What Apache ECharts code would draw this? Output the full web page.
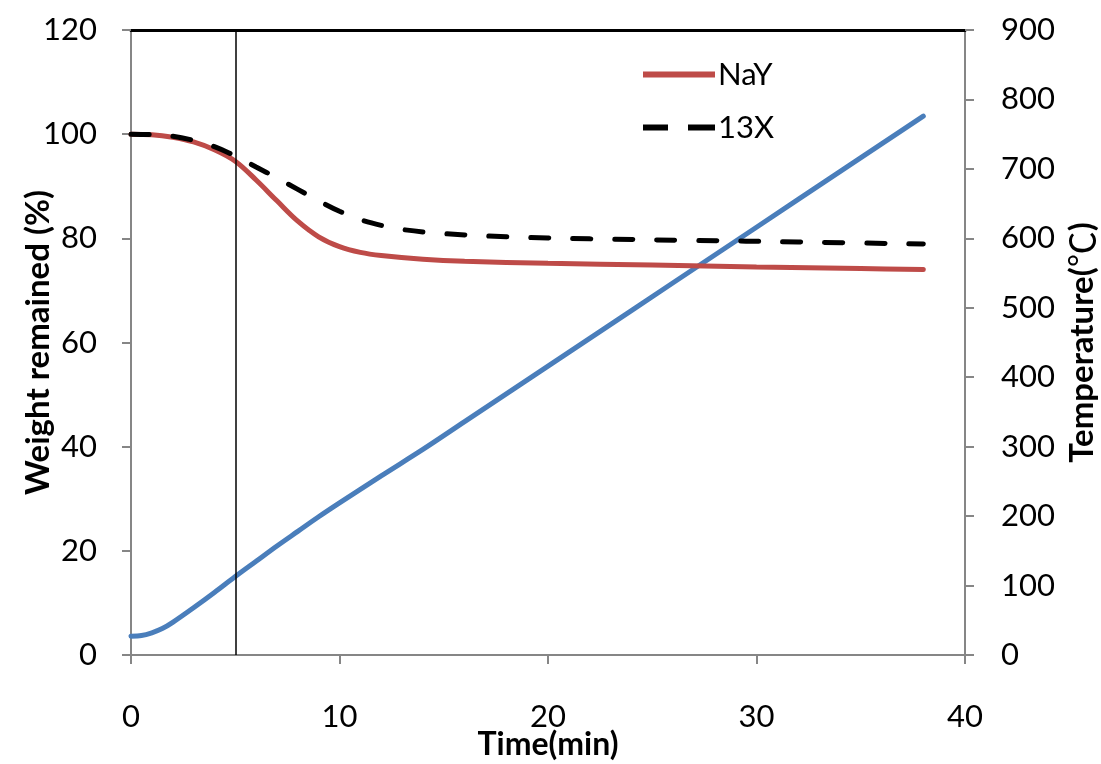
<!DOCTYPE html>
<html>
<head>
<meta charset="utf-8">
<script src="https://cdn.jsdelivr.net/npm/echarts@6/dist/echarts.min.js"></script>
<style>
  html, body { margin: 0; padding: 0; background: #fff; }
  #chart { width: 1101px; height: 764px; }
</style>
</head>
<body>
<div id="chart"></div>
<script>
// Thermogravimetric curves: weight remained (%) vs time, with furnace temperature
const nayTime   = [0, 1, 2, 3, 4, 5, 6, 7, 8, 9, 10, 11, 12, 14, 16, 20, 25, 30, 35, 38];
const nayWeight = [100, 99.9, 99.4, 98.5, 97.0, 94.8, 91.2, 87.2, 83.3, 80.3, 78.4, 77.3, 76.7, 76.0, 75.6, 75.2, 74.9, 74.5, 74.2, 74.0];

const x13Time   = [0, 1, 2, 3, 4, 5, 6, 7, 8, 9, 10, 11, 12, 13, 15, 18, 22, 27, 32, 38];
const x13Weight = [100, 99.9, 99.6, 98.8, 97.6, 95.8, 93.7, 91.6, 89.4, 87.2, 85.2, 83.6, 82.5, 81.7, 80.9, 80.3, 79.9, 79.6, 79.3, 78.9];

const tempTime  = [0, 0.5, 1, 1.5, 2, 3, 4, 5, 6, 7, 8, 9, 10, 12, 14, 16, 20, 24, 28, 32, 36, 38];
const tempValue = [27, 28, 32, 38, 47, 68, 90, 113, 135, 157, 178, 199, 219, 258, 296, 336, 416, 496, 576, 656, 736, 776];

const xTicks = { min: 0, max: 40, interval: 10 };
const weightTicks = { min: 0, max: 120, interval: 20 };
const tempTicks = { min: 0, max: 900, interval: 100 };
const markerTime = 5;

const pairs = (xs, ys) => xs.map((x, i) => [x, ys[i]]);

const FONT = 'Lato';
const axisGray = '#868686';

// legend glyphs: a solid bar and a two-dash bar
const solidIcon = 'path://M0,0H72V6H0Z';
const dashIcon = 'path://M0,0H25V6H0Z M45,0H72V6H45Z';

const chart = echarts.init(document.getElementById('chart'));
chart.setOption({
  animation: false,
  backgroundColor: '#ffffff',
  textStyle: { fontFamily: FONT, color: '#000' },
  grid: { left: 131, right: 136, top: 30, bottom: 109, containLabel: false, outerBoundsMode: 'none' },
  legend: {
    orient: 'vertical',
    left: 638,
    top: 54,
    itemWidth: 72,
    itemHeight: 6,
    itemGap: 22,
    textStyle: { fontFamily: FONT, fontSize: 31, color: '#000', padding: [0, 0, 0, -2] },
    data: [
      { name: 'NaY', icon: solidIcon, itemStyle: { color: '#be4b48' } },
      { name: '13X', icon: dashIcon, itemStyle: { color: '#000' } }
    ]
  },
  xAxis: [
    {
      type: 'value',
      min: xTicks.min, max: xTicks.max, interval: xTicks.interval,
      name: 'Time(min)',
      nameLocation: 'middle',
      nameGap: 74,
      nameMoveOverlap: false,
      nameTextStyle: { fontFamily: FONT, fontSize: 32, fontWeight: 'bold', color: '#000' },
      axisLine: { onZero: false, lineStyle: { color: axisGray, width: 2 } },
      axisTick: { show: true, length: 9, lineStyle: { color: axisGray, width: 2 } },
      minorTick: { show: false },
      axisLabel: { fontFamily: FONT, fontSize: 31, color: '#000', margin: 46 },
      splitLine: { show: false }
    },
    {
      // top frame edge
      type: 'value',
      position: 'top',
      min: xTicks.min, max: xTicks.max,
      axisLine: { show: true, onZero: false, lineStyle: { color: '#000', width: 3 } },
      axisTick: { show: false },
      axisLabel: { show: false },
      splitLine: { show: false }
    }
  ],
  yAxis: [
    {
      type: 'value',
      position: 'left',
      min: weightTicks.min, max: weightTicks.max, interval: weightTicks.interval,
      name: 'Weight remained (%)',
      nameLocation: 'middle',
      nameRotate: 90,
      nameGap: 76,
      nameMoveOverlap: false,
      nameTextStyle: { fontFamily: FONT, fontSize: 33, fontWeight: 'bold', color: '#000' },
      axisLine: { show: true, onZero: false, lineStyle: { color: axisGray, width: 2 } },
      axisTick: { show: true, length: 9, lineStyle: { color: axisGray, width: 2 } },
      minorTick: { show: false },
      axisLabel: { fontFamily: FONT, fontSize: 31, color: '#000', margin: 34 },
      splitLine: { show: false }
    },
    {
      type: 'value',
      position: 'right',
      min: tempTicks.min, max: tempTicks.max, interval: tempTicks.interval,
      name: '{t|Temperature(}{c|℃}{t|)}',
      nameLocation: 'middle',
      nameRotate: 90,
      nameGap: 99,
      nameMoveOverlap: false,
      nameTextStyle: {
        fontFamily: FONT, fontSize: 33, fontWeight: 'bold', color: '#000',
        rich: {
          t: { fontFamily: FONT, fontSize: 33, fontWeight: 'bold', color: '#000' },
          c: { fontFamily: 'Noto Sans CJK SC', fontSize: 36, fontWeight: 'normal', color: '#000' }
        }
      },
      axisLine: { show: true, onZero: false, lineStyle: { color: axisGray, width: 2 } },
      axisTick: { show: true, length: 9, lineStyle: { color: axisGray, width: 2 } },
      minorTick: { show: false },
      axisLabel: { fontFamily: FONT, fontSize: 31, color: '#000', margin: 36 },
      splitLine: { show: false }
    }
  ],
  series: [
    {
      name: 'Temperature',
      type: 'line',
      yAxisIndex: 1,
      data: pairs(tempTime, tempValue),
      smooth: 0.3,
      symbol: 'none',
      lineStyle: { color: '#4a7ebb', width: 5, cap: 'round' },
      itemStyle: { color: '#4a7ebb' },
      z: 3
    },
    {
      name: 'NaY',
      type: 'line',
      data: pairs(nayTime, nayWeight),
      smooth: 0.35,
      symbol: 'none',
      lineStyle: { color: '#be4b48', width: 5, cap: 'round' },
      itemStyle: { color: '#be4b48' },
      z: 4,
      markLine: {
        silent: true,
        symbol: 'none',
        label: { show: false },
        lineStyle: { color: '#000', width: 1.5, type: 'solid' },
        data: [{ xAxis: markerTime }]
      }
    },
    {
      name: '13X',
      type: 'line',
      data: pairs(x13Time, x13Weight),
      smooth: 0.35,
      symbol: 'none',
      lineStyle: { color: '#000', width: 5, type: [18, 24], cap: 'round' },
      itemStyle: { color: '#000' },
      z: 5
    }
  ]
});
</script>
</body>
</html>
